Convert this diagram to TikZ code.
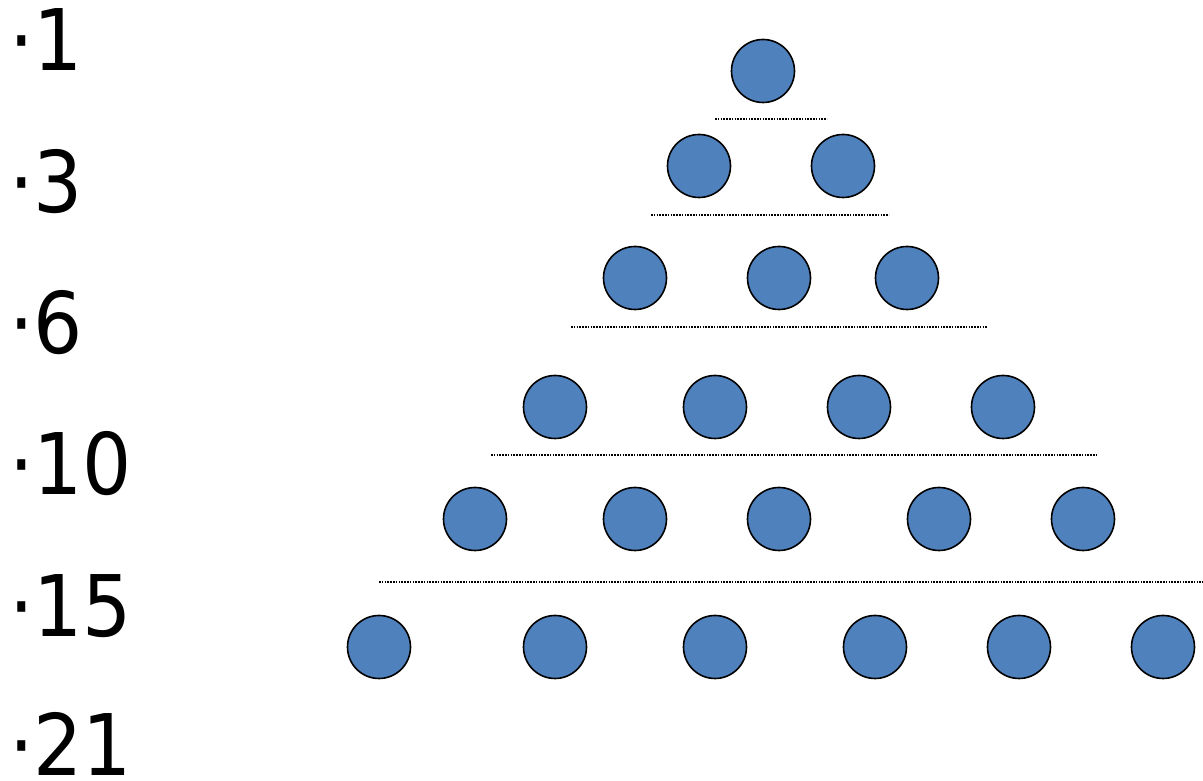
\documentclass[tikz,border=0pt]{standalone}
\usepackage{fontspec}
\setmainfont{DejaVu Sans}
\newfontfamily\lblfont[FakeStretch=0.91]{DejaVu Sans}
\definecolor{ballblue}{HTML}{4F81BD}
\tikzset{
  ball/.style={circle, draw=black, line width=1.6pt, fill=ballblue, minimum size=63pt, inner sep=0pt},
  sepline/.style={line width=1.2pt, dash pattern=on 1.6pt off 1.2pt},
  lbl/.style={anchor=base west, inner sep=0pt, font=\lblfont\fontsize{85}{85}\selectfont}
}
\begin{document}
\begin{tikzpicture}[x=1pt,y=1pt]
\useasboundingbox (0,0) rectangle (1203,781);
% labels
\node[lbl] (t1) at (9,710) {·1};
\node[lbl] (t3) at (9,568) {·3};
\node[lbl] (t6) at (9,427) {·6};
\node[lbl] (t10) at (9,286) {·10};
\node[lbl] (t15) at (9,144) {·15};
\node[lbl] (t21) at (9,5) {·21};
% row 1
\node[ball] (b11) at (763,710) {};
% row 2
\node[ball] (b21) at (699,615) {};
\node[ball] (b22) at (843,615) {};
% row 3
\node[ball] (b31) at (635,503) {};
\node[ball] (b32) at (779,503) {};
\node[ball] (b33) at (907,503) {};
% row 4
\node[ball] (b41) at (555,374) {};
\node[ball] (b42) at (715,374) {};
\node[ball] (b43) at (859,374) {};
\node[ball] (b44) at (1003,374) {};
% row 5
\node[ball] (b51) at (475,262) {};
\node[ball] (b52) at (635,262) {};
\node[ball] (b53) at (779,262) {};
\node[ball] (b54) at (939,262) {};
\node[ball] (b55) at (1083,262) {};
% row 6
\node[ball] (b61) at (379,134) {};
\node[ball] (b62) at (555,134) {};
\node[ball] (b63) at (715,134) {};
\node[ball] (b64) at (875,134) {};
\node[ball] (b65) at (1019,134) {};
\node[ball] (b66) at (1163,134) {};
% separators
\coordinate (s1a) at (715,662); \coordinate (s1b) at (827,662);
\coordinate (s2a) at (651,566); \coordinate (s2b) at (889,566);
\coordinate (s3a) at (571,454); \coordinate (s3b) at (987,454);
\coordinate (s4a) at (491,326); \coordinate (s4b) at (1097,326);
\coordinate (s5a) at (379,199); \coordinate (s5b) at (1203,199);
\draw[sepline] (s1a) -- (s1b);
\draw[sepline] (s2a) -- (s2b);
\draw[sepline] (s3a) -- (s3b);
\draw[sepline] (s4a) -- (s4b);
\draw[sepline] (s5a) -- (s5b);
\end{tikzpicture}
\end{document}
